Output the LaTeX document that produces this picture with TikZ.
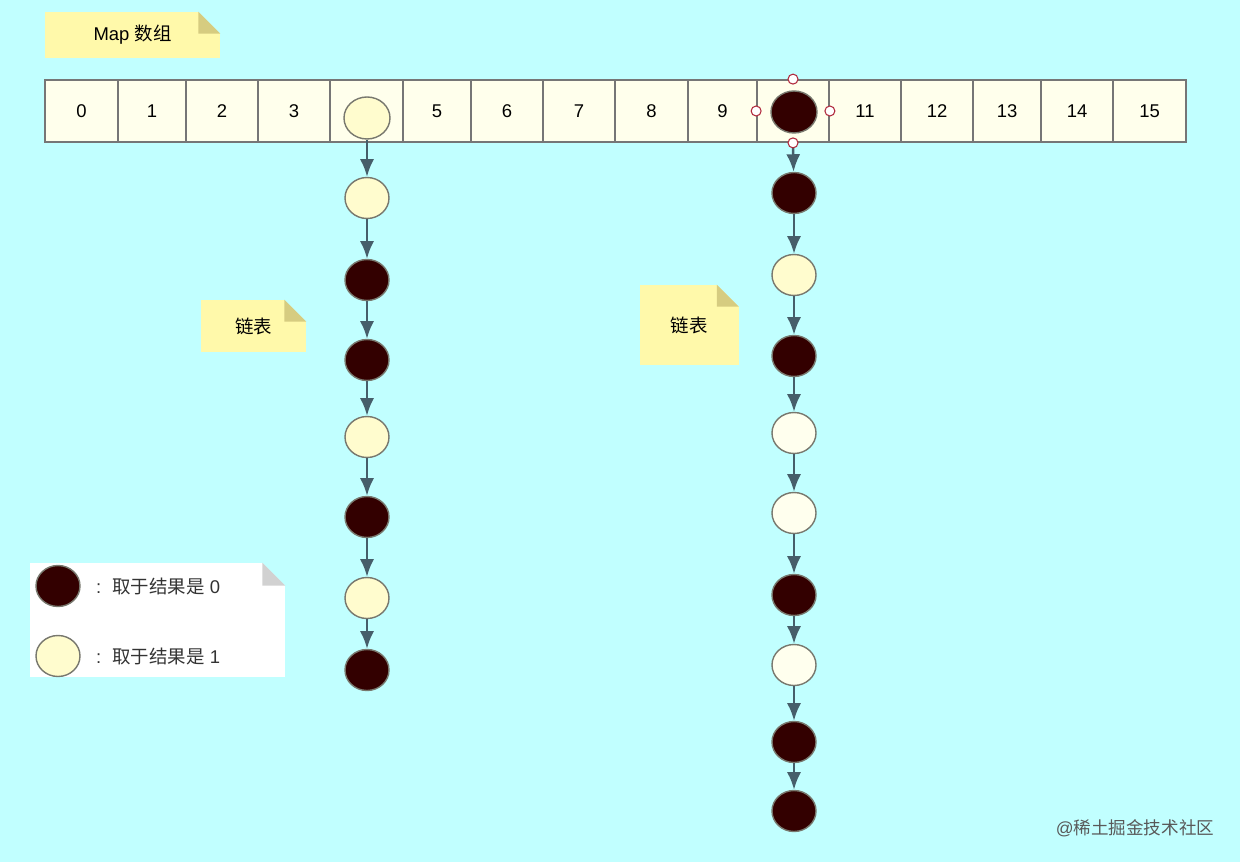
\documentclass[tikz,border=0pt]{standalone}
\usepackage{fontspec}
\setmainfont{Liberation Sans}
\newfontfamily\cjk{Noto Sans CJK SC}
\usetikzlibrary{shapes.geometric,arrows.meta,calc}

\definecolor{bgcyan}{RGB}{193,255,255}
\definecolor{cellfill}{RGB}{255,255,236}
\definecolor{cellline}{RGB}{118,118,118}
\definecolor{lightfill}{RGB}{255,252,206}
\definecolor{palefill}{RGB}{255,255,238}
\definecolor{darkfill}{RGB}{51,0,0}
\definecolor{nodeline}{RGB}{120,120,110}
\definecolor{linkline}{RGB}{70,94,106}
\definecolor{notefill}{RGB}{255,249,170}
\definecolor{notefold}{RGB}{214,204,128}
\definecolor{handle}{RGB}{176,40,60}

\tikzset{
  cell/.style={draw=cellline,fill=cellfill,line width=1pt,rectangle,minimum height=1.24cm,inner sep=0pt,font=\fontsize{10.5}{12}\selectfont},
  bit0/.style={ellipse,draw=nodeline,fill=darkfill,line width=0.8pt,minimum width=0.88cm,minimum height=0.82cm,inner sep=0pt},
  bit1/.style={ellipse,draw=nodeline,fill=lightfill,line width=0.8pt,minimum width=0.88cm,minimum height=0.82cm,inner sep=0pt},
  bitp/.style={bit1,fill=palefill},
  link/.style={draw=linkline,line width=1.4pt,-{Latex[length=10pt,width=8pt]}},
  note/.style={fill=notefill,rectangle,inner sep=0pt,font=\fontsize{10.5}{12}\selectfont},
  grip/.style={circle,draw=handle,fill=white,line width=0.6pt,minimum size=0.2cm,inner sep=0pt}
}

\begin{document}
\begin{tikzpicture}
\fill[bgcyan] (0,0) rectangle (24.80,-17.24);
\useasboundingbox (0,0) rectangle (24.80,-17.24);

% Map array
\node[note,minimum width=3.50cm,minimum height=0.92cm] (mapnote) at (2.650,-0.700) {Map {\cjk 数组}};
\fill[bgcyan] ($(mapnote.north east)+(-0.44,0)$) -- (mapnote.north east) -- ($(mapnote.north east)+(0,-0.44)$) -- cycle;
\fill[notefold] ($(mapnote.north east)+(-0.44,0)$) -- ($(mapnote.north east)+(-0.44,-0.44)$) -- ($(mapnote.north east)+(0,-0.44)$) -- cycle;

\node[cell,minimum width=1.46cm] (c0) at (1.630,-2.220) {0};
\node[cell,minimum width=1.36cm] (c1) at (3.040,-2.220) {1};
\node[cell,minimum width=1.44cm] (c2) at (4.440,-2.220) {2};
\node[cell,minimum width=1.44cm] (c3) at (5.880,-2.220) {3};
\node[cell,minimum width=1.46cm] (c4) at (7.330,-2.220) {};
\node[cell,minimum width=1.36cm] (c5) at (8.740,-2.220) {5};
\node[cell,minimum width=1.44cm] (c6) at (10.140,-2.220) {6};
\node[cell,minimum width=1.44cm] (c7) at (11.580,-2.220) {7};
\node[cell,minimum width=1.46cm] (c8) at (13.030,-2.220) {8};
\node[cell,minimum width=1.38cm] (c9) at (14.450,-2.220) {9};
\node[cell,minimum width=1.44cm] (c10) at (15.860,-2.220) {};
\node[cell,minimum width=1.44cm] (c11) at (17.300,-2.220) {11};
\node[cell,minimum width=1.44cm] (c12) at (18.740,-2.220) {12};
\node[cell,minimum width=1.36cm] (c13) at (20.140,-2.220) {13};
\node[cell,minimum width=1.44cm] (c14) at (21.540,-2.220) {14};
\node[cell,minimum width=1.46cm] (c15) at (22.990,-2.220) {15};

% left list
\node[bit1,minimum width=0.92cm,minimum height=0.84cm] (l0) at (7.340,-2.360) {};
\node[bit1] (l1) at (7.340,-3.960) {};
\node[bit0] (l2) at (7.340,-5.600) {};
\node[bit0] (l3) at (7.340,-7.200) {};
\node[bit1] (l4) at (7.340,-8.740) {};
\node[bit0] (l5) at (7.340,-10.340) {};
\node[bit1] (l6) at (7.340,-11.960) {};
\node[bit0] (l7) at (7.340,-13.400) {};
\draw[link] (l0) -- (l1);
\draw[link] (l1) -- (l2);
\draw[link] (l2) -- (l3);
\draw[link] (l3) -- (l4);
\draw[link] (l4) -- (l5);
\draw[link] (l5) -- (l6);
\draw[link] (l6) -- (l7);

% right list
\node[bit0,minimum width=0.92cm,minimum height=0.84cm] (r0) at (15.880,-2.240) {};
\node[bit0] (r1) at (15.880,-3.860) {};
\node[bit1] (r2) at (15.880,-5.500) {};
\node[bit0] (r3) at (15.880,-7.120) {};
\node[bitp] (r4) at (15.880,-8.660) {};
\node[bitp] (r5) at (15.880,-10.260) {};
\node[bit0] (r6) at (15.880,-11.900) {};
\node[bitp] (r7) at (15.880,-13.300) {};
\node[bit0] (r8) at (15.880,-14.840) {};
\node[bit0] (r9) at (15.880,-16.220) {};
\draw[link] (c10.south) -- (r1);
\draw[link] (r1) -- (r2);
\draw[link] (r2) -- (r3);
\draw[link] (r3) -- (r4);
\draw[link] (r4) -- (r5);
\draw[link] (r5) -- (r6);
\draw[link] (r6) -- (r7);
\draw[link] (r7) -- (r8);
\draw[link] (r8) -- (r9);

% selection handles
\node[grip] (gt) at (c10.north) {};
\node[grip] (gl) at (c10.west) {};
\node[grip] (gr) at (c10.east) {};
\node[grip] (gb) at (c10.south) {};

% notes
\node[note,minimum width=2.10cm,minimum height=1.04cm] (leftnote) at (5.070,-6.520) {\cjk 链表};
\fill[bgcyan] ($(leftnote.north east)+(-0.44,0)$) -- (leftnote.north east) -- ($(leftnote.north east)+(0,-0.44)$) -- cycle;
\fill[notefold] ($(leftnote.north east)+(-0.44,0)$) -- ($(leftnote.north east)+(-0.44,-0.44)$) -- ($(leftnote.north east)+(0,-0.44)$) -- cycle;
\node[note,minimum width=1.98cm,minimum height=1.60cm] (rightnote) at (13.780,-6.500) {\cjk 链表};
\fill[bgcyan] ($(rightnote.north east)+(-0.44,0)$) -- (rightnote.north east) -- ($(rightnote.north east)+(0,-0.44)$) -- cycle;
\fill[notefold] ($(rightnote.north east)+(-0.44,0)$) -- ($(rightnote.north east)+(-0.44,-0.44)$) -- ($(rightnote.north east)+(0,-0.44)$) -- cycle;

% legend
\node[note,fill=white,minimum width=5.10cm,minimum height=2.28cm] (legend) at (3.150,-12.400) {};
\fill[bgcyan] ($(legend.north east)+(-0.46,0)$) -- (legend.north east) -- ($(legend.north east)+(0,-0.46)$) -- cycle;
\fill[black!18] ($(legend.north east)+(-0.46,0)$) -- ($(legend.north east)+(-0.46,-0.46)$) -- ($(legend.north east)+(0,-0.46)$) -- cycle;
\node[bit0] (key0) at (1.160,-11.720) {};
\node[bit1] (key1) at (1.160,-13.120) {};
\node[anchor=west,font=\fontsize{10.5}{12}\selectfont,text=black!80] (txt0) at (1.800,-11.720) {:\hspace{0.6em}{\cjk 取于结果是} 0};
\node[anchor=west,font=\fontsize{10.5}{12}\selectfont,text=black!80] (txt1) at (1.800,-13.120) {:\hspace{0.6em}{\cjk 取于结果是} 1};

% watermark
\node[font=\fontsize{10}{12}\selectfont,text=black!65] (mark) at (22.700,-16.560) {@{\cjk 稀土掘金技术社区}};
\end{tikzpicture}
\end{document}
